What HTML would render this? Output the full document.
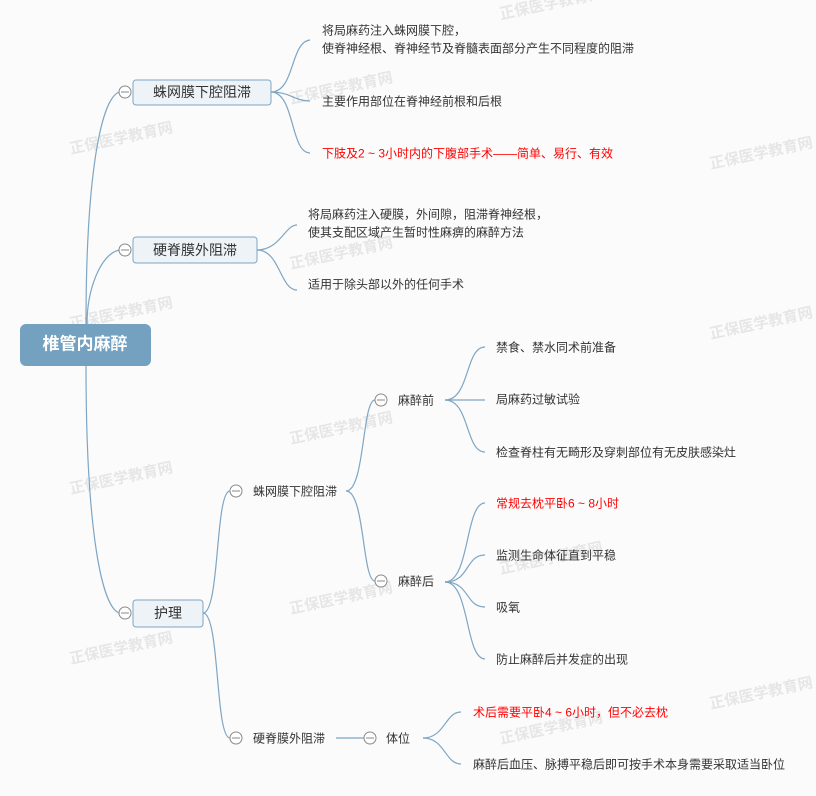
<!DOCTYPE html>
<html><head><meta charset="utf-8"><style>
body{margin:0;background:#fbfbfb;}
svg{display:block;font-family:"Liberation Sans","Noto Sans CJK SC",sans-serif;}
text{font-size:12px;fill:#333;dominant-baseline:middle;}
.r{fill:#f00;}
.c{fill:#fff;stroke:#888;stroke-width:1;}
.l{fill:none;stroke:#7ea6c4;stroke-width:1.2;}
.wm{fill:#ddd;font-size:15px;font-weight:bold;}
</style></head><body>
<svg width="816" height="796" viewBox="0 0 816 796">
<g opacity="0.7">
<text class="wm" x="70" y="150" transform="rotate(-12 70 150)">正保医学教育网</text>
<text class="wm" x="70" y="325" transform="rotate(-12 70 325)">正保医学教育网</text>
<text class="wm" x="290" y="100" transform="rotate(-12 290 100)">正保医学教育网</text>
<text class="wm" x="290" y="265" transform="rotate(-12 290 265)">正保医学教育网</text>
<text class="wm" x="290" y="440" transform="rotate(-12 290 440)">正保医学教育网</text>
<text class="wm" x="290" y="610" transform="rotate(-12 290 610)">正保医学教育网</text>
<text class="wm" x="70" y="490" transform="rotate(-12 70 490)">正保医学教育网</text>
<text class="wm" x="70" y="660" transform="rotate(-12 70 660)">正保医学教育网</text>
<text class="wm" x="500" y="570" transform="rotate(-12 500 570)">正保医学教育网</text>
<text class="wm" x="500" y="740" transform="rotate(-12 500 740)">正保医学教育网</text>
<text class="wm" x="710" y="165" transform="rotate(-12 710 165)">正保医学教育网</text>
<text class="wm" x="710" y="335" transform="rotate(-12 710 335)">正保医学教育网</text>
<text class="wm" x="710" y="705" transform="rotate(-12 710 705)">正保医学教育网</text>
<text class="wm" x="500" y="15" transform="rotate(-12 500 15)">正保医学教育网</text>
</g>
<path class="l" d="M86,324 C86,180 100,100 119,92"/>
<path class="l" d="M87,324 C87,290 100,255 119,250"/>
<path class="l" d="M86,366 C86,520 100,605 119,613"/>
<rect x="20" y="324" width="131" height="42" rx="6" fill="#73a1bf"/>
<text x="85" y="345" text-anchor="middle" style="fill:#fff;font-size:17px;font-weight:bold">椎管内麻醉</text>
<rect x="133" y="80" width="138" height="25" rx="3" fill="#eef3f7" stroke="#7ea6c4"/>
<rect x="133" y="237" width="124" height="26" rx="3" fill="#eef3f7" stroke="#7ea6c4"/>
<rect x="133" y="600" width="70" height="27" rx="3" fill="#eef3f7" stroke="#7ea6c4"/>
<g transform="translate(0,1.5)">
<text x="202" y="92" text-anchor="middle" style="font-size:14px">蛛网膜下腔阻滞</text>
<text x="195" y="250" text-anchor="middle" style="font-size:14px">硬脊膜外阻滞</text>
<text x="168" y="613" text-anchor="middle" style="font-size:14px">护理</text>
</g>
<circle class="c" cx="125" cy="92" r="6"/><line x1="121" y1="92" x2="129" y2="92" stroke="#888"/>
<circle class="c" cx="125" cy="250" r="6"/><line x1="121" y1="250" x2="129" y2="250" stroke="#888"/>
<circle class="c" cx="125" cy="613" r="6"/><line x1="121" y1="613" x2="129" y2="613" stroke="#888"/>

<path class="l" d="M271,92 C295,92 290,42 310,40"/>
<path class="l" d="M271,92 C290,92 295,101 310,101"/>
<path class="l" d="M271,92 C295,92 290,153 310,153"/>
<path class="l" d="M257,250 C280,250 285,225 297,225"/>
<path class="l" d="M257,250 C280,250 280,290 297,290"/>
<path class="l" d="M203,613 C220,613 215,491 230,491"/>
<path class="l" d="M203,613 C220,613 215,738 230,738"/>
<path class="l" d="M346,491 C365,491 362,400 375,400"/>
<path class="l" d="M346,491 C365,491 362,581 375,581"/>
<path class="l" d="M445,400 C470,400 465,347 485,347"/>
<path class="l" d="M445,400 L485,400"/>
<path class="l" d="M445,400 C470,400 465,452 485,452"/>
<path class="l" d="M445,582 C470,582 465,503 485,503"/>
<path class="l" d="M445,582 C470,582 465,555 485,555"/>
<path class="l" d="M445,582 C470,582 465,607 485,607"/>
<path class="l" d="M445,582 C470,582 465,659 485,659"/>
<line class="l" x1="336" y1="738" x2="364" y2="738"/>
<path class="l" d="M423,738 C445,738 445,712 461,712"/>
<path class="l" d="M423,738 C445,738 445,764 461,764"/>

<circle class="c" cx="236" cy="491" r="6"/><line x1="232" y1="491" x2="240" y2="491" stroke="#888"/>
<circle class="c" cx="236" cy="738" r="6"/><line x1="232" y1="738" x2="240" y2="738" stroke="#888"/>
<circle class="c" cx="381" cy="400" r="6"/><line x1="377" y1="400" x2="385" y2="400" stroke="#888"/>
<circle class="c" cx="381" cy="581" r="6"/><line x1="377" y1="581" x2="385" y2="581" stroke="#888"/>
<circle class="c" cx="370" cy="738" r="6"/><line x1="366" y1="738" x2="374" y2="738" stroke="#888"/>

<g transform="translate(0,1.5)">
<text x="322" y="30">将局麻药注入蛛网膜下腔，</text>
<text x="322" y="48">使脊神经根、脊神经节及脊髓表面部分产生不同程度的阻滞</text>
<text x="322" y="101">主要作用部位在脊神经前根和后根</text>
<text class="r" x="322" y="153">下肢及2 ~ 3小时内的下腹部手术——简单、易行、有效</text>
<text x="308" y="214">将局麻药注入硬膜，外间隙，阻滞脊神经根，</text>
<text x="308" y="232">使其支配区域产生暂时性麻痹的麻醉方法</text>
<text x="308" y="284">适用于除头部以外的任何手术</text>
<text x="253" y="491">蛛网膜下腔阻滞</text>
<text x="253" y="738">硬脊膜外阻滞</text>
<text x="398" y="400">麻醉前</text>
<text x="398" y="581">麻醉后</text>
<text x="496" y="347">禁食、禁水同术前准备</text>
<text x="496" y="399">局麻药过敏试验</text>
<text x="496" y="452">检查脊柱有无畸形及穿刺部位有无皮肤感染灶</text>
<text class="r" x="496" y="503">常规去枕平卧6 ~ 8小时</text>
<text x="496" y="555">监测生命体征直到平稳</text>
<text x="496" y="607">吸氧</text>
<text x="496" y="659">防止麻醉后并发症的出现</text>
<text x="386" y="738">体位</text>
<text class="r" x="473" y="712">术后需要平卧4 ~ 6小时，但不必去枕</text>
<text x="473" y="764">麻醉后血压、脉搏平稳后即可按手术本身需要采取适当卧位</text>
</g>
</svg>
</body></html>
